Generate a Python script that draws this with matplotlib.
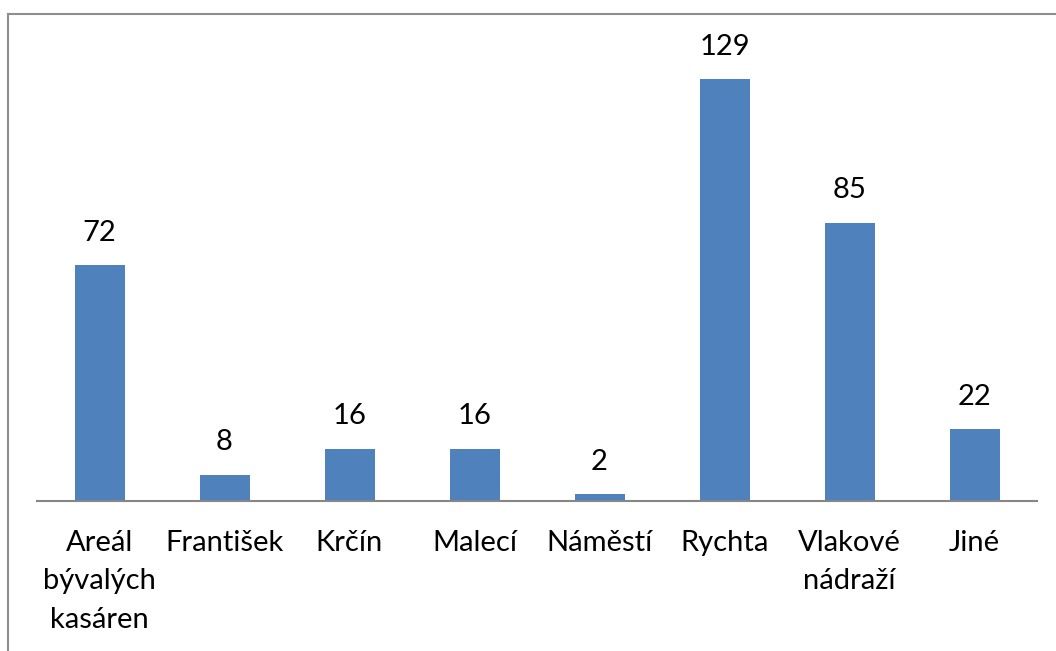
import matplotlib
matplotlib.use("Agg")
import matplotlib.pyplot as plt
from matplotlib.lines import Line2D

categories = ["Areál\nbývalých\nkasáren", "František", "Krčín", "Malecí", "Náměstí",
              "Rychta", "Vlakové\nnádraží", "Jiné"]
values = [72, 8, 16, 16, 2, 129, 85, 22]

W, H = 1056, 651
fig = plt.figure(figsize=(W / 100, H / 100), dpi=100)
font = "Lato"

ax = fig.add_axes([37 / W, 150 / H, 1000 / W, 458 / H])
x = list(range(len(categories)))
ax.bar(x, values, width=0.4, color="#4F81BD")
ax.set_xlim(-0.5, len(categories) - 0.5)
ax.set_ylim(0, 140)
for s in ["top", "right", "left"]:
    ax.spines[s].set_visible(False)
ax.spines["bottom"].set_color("#868686")
ax.spines["bottom"].set_linewidth(1.5)
ax.set_yticks([])
ax.set_xticks(x)
ax.set_xticklabels(categories, fontsize=21, family=font, linespacing=1.58)
ax.tick_params(axis="x", length=0, pad=21)

for xi, v in zip(x, values):
    ax.annotate(str(v), (xi, v), xytext=(0, 14), textcoords="offset points",
                ha="center", va="bottom", fontsize=21, family=font)

# outer border
lc = "#8e8e8e"
fig.add_artist(Line2D([8 / W, 8 / W], [0, 1 - 14 / H], transform=fig.transFigure, color=lc, lw=1.5))
fig.add_artist(Line2D([8 / W, 1], [1 - 14 / H, 1 - 14 / H], transform=fig.transFigure, color=lc, lw=1.5))

fig.savefig("out.png", dpi=100, facecolor="white")
